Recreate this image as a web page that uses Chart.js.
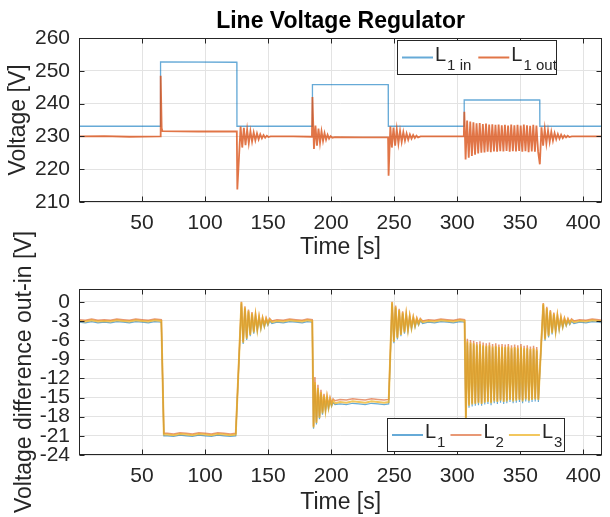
<!DOCTYPE html>
<html>
<head>
<meta charset="utf-8">
<title>Line Voltage Regulator</title>
<script src="https://cdn.jsdelivr.net/npm/chart.js@4.4.1/dist/chart.umd.min.js"></script>
<style>
  html, body { margin: 0; padding: 0; background: #fff; }
  #wrap { position: relative; width: 610px; height: 517px; overflow: hidden; }
  #wrap canvas { position: absolute; left: 0; }
  #voltChart { top: 0; }
  #diffChart { top: 220px; }
</style>
</head>
<body>
<div id="wrap">
  <canvas id="diffChart" width="610" height="297"></canvas>
  <canvas id="voltChart" width="610" height="260"></canvas>
</div>
<script>
// tick positions
const timeTicks = [50, 100, 150, 200, 250, 300, 350, 400];
const voltTicks = [210, 220, 230, 240, 250, 260];
const diffTicks = [-24, -21, -18, -15, -12, -9, -6, -3, 0];

// top panel: L1 input voltage (step changes)
const tIn = [0, 64.6, 64.7, 125.2, 125.3, 185.1, 185.2, 245.3, 245.4, 305.5, 305.6, 365.5, 365.6, 415];
const vIn = [233.1, 233.1, 252.7, 252.6, 233.1, 233.1, 245.8, 245.8, 233.1, 233.1, 241.1, 241.1, 233.1, 233.1];

// top panel: L1 output voltage
const tOut = [0, 20, 40, 64.5, 64.8, 65.6, 66.2, 95, 125.2, 125.6,
  128.2, 129.5, 130.8, 132.1, 133.4, 134.7, 136.0, 137.3, 138.6, 139.9, 141.2, 142.5, 143.8, 145.1, 146.4, 147.7, 149.0, 150.3, 152.0,
  170, 184.8, 185.2, 186.4, 187.6, 188.8, 190.0, 191.2, 192.4, 193.6, 194.8, 196.0, 197.2, 198.4, 199.6, 201.0, 203.0,
  225, 245.2, 245.6, 247.0, 248.2, 249.5, 250.8, 252.1, 253.4, 254.7, 256.0, 257.3, 258.6, 259.9, 261.2, 262.5, 263.8, 265.1, 266.4, 267.7, 269.0, 271.0,
  290, 305.3, 305.7, 306.7,
  307.9, 309.2, 310.4, 311.7, 312.9, 314.2, 315.4, 316.7, 317.9, 319.2, 320.4, 321.7, 322.9, 324.2, 325.4, 326.7, 327.9, 329.2, 330.4, 331.7,
  332.9, 334.2, 335.4, 336.7, 337.9, 339.2, 340.4, 341.7, 342.9, 344.2, 345.4, 346.7, 347.9, 349.2, 350.4, 351.7, 352.9, 354.2, 355.4, 356.7,
  357.9, 359.2, 360.4, 361.7, 362.9, 364.2,
  365.6, 366.9, 368.2, 369.5, 370.8, 372.1, 373.4, 374.7, 376.0, 377.3, 378.6, 379.9, 381.2, 382.5, 383.8, 385.1, 386.4, 387.7, 389.0, 391.0, 415];
const vOut = [230.0, 230.1, 229.9, 230.0, 248.5, 232.5, 231.6, 231.5, 231.5, 213.8,
  233.0, 226.6, 232.6, 227.3, 232.1, 227.9, 231.6, 228.4, 231.2, 228.8, 230.9, 229.1, 230.6, 229.4, 230.4, 229.6, 230.2, 229.8, 230.0,
  230.0, 229.9, 242.0, 226.2, 233.3, 227.2, 232.4, 228.0, 231.6, 228.6, 231.0, 229.0, 230.5, 229.3, 230.1, 229.6, 229.8,
  229.7, 229.7, 218.0, 233.0, 226.6, 232.7, 227.2, 232.2, 227.8, 231.7, 228.3, 231.3, 228.7, 230.9, 229.0, 230.6, 229.3, 230.4, 229.5, 230.2, 229.7, 230.0,
  230.0, 230.0, 237.5, 223.0,
  234.8, 223.5, 234.5, 224.0, 234.3, 224.4, 234.0, 224.8, 234.1, 225.0, 233.8, 225.1, 233.9, 225.3, 233.6, 225.2, 233.7, 225.4, 233.5, 225.3,
  233.6, 225.5, 233.4, 225.4, 233.5, 225.6, 233.3, 225.3, 233.6, 225.5, 233.4, 225.4, 233.5, 225.6, 233.3, 225.3, 233.6, 225.5, 233.4, 225.2,
  233.2, 225.4, 233.5, 225.3, 233.3, 225.5,
  221.5, 232.8, 227.2, 232.3, 227.8, 231.8, 228.3, 231.4, 228.7, 231.0, 229.1, 230.7, 229.3, 230.5, 229.5, 230.3, 229.7, 230.2, 229.8, 230.0, 230.0];

// bottom panel: out-in difference per phase
const tDiff = [0, 5, 10, 15, 20, 25, 30, 35, 40, 45, 50, 55, 60, 65.3,
  67.3, 70, 75, 80, 85, 90, 95, 100, 105, 110, 115, 120, 124.3,
  128.8, 130.2, 131.6, 133.0, 134.4, 135.8, 137.2, 138.6, 140.0, 141.4, 142.8, 144.2, 145.6, 147.0, 148.4, 149.8, 151.2, 153.0,
  157, 162, 167, 172, 177, 181, 185.0,
  186.0, 187.1, 188.3, 189.5, 190.7, 191.9, 193.1, 194.3, 195.5, 196.7, 197.9, 199.1, 200.3, 201.5, 203.0,
  207, 212, 217, 222, 227, 232, 237, 242, 245.6,
  248.3, 249.7, 251.1, 252.5, 253.9, 255.3, 256.7, 258.1, 259.5, 260.9, 262.3, 263.7, 265.1, 266.5, 267.9, 269.3, 270.7, 272.5,
  277, 282, 287, 292, 297, 302, 305.8,
  306.8,
  308.0, 309.3, 310.5, 311.8, 313.0, 314.3, 315.5, 316.8, 318.0, 319.3, 320.5, 321.8, 323.0, 324.3, 325.5, 326.8, 328.0, 329.3, 330.5, 331.8,
  333.0, 334.3, 335.5, 336.8, 338.0, 339.3, 340.5, 341.8, 343.0, 344.3, 345.5, 346.8, 348.0, 349.3, 350.5, 351.8, 353.0, 354.3, 355.5, 356.8,
  358.0, 359.3, 360.5, 361.8, 363.0, 364.3,
  368.2, 369.6, 371.0, 372.4, 373.8, 375.2, 376.6, 378.0, 379.4, 380.8, 382.2, 383.6, 385.0, 386.4, 387.8, 389.2, 390.6, 392.5,
  397, 402, 407, 412, 415];
const dL1 = [-3.2, -3.3, -3.1, -3.3, -3.2, -3.3, -3.1, -3.2, -3.3, -3.1, -3.2, -3.3, -3.1, -3.2,
  -21.0, -21.0, -21.1, -20.9, -21.0, -21.1, -20.9, -21.0, -21.1, -20.9, -21.0, -21.1, -21.0,
  -0.3, -6.6, -1.1, -6.0, -1.6, -5.4, -2.0, -5.0, -2.3, -4.6, -2.6, -4.3, -2.8, -4.0, -2.9, -3.7, -3.0, -3.4,
  -3.2, -3.3, -3.1, -3.2, -3.3, -3.1, -3.2,
  -19.9, -13.0, -19.2, -13.8, -18.4, -14.5, -17.7, -15.0, -17.2, -15.3, -16.8, -15.6, -16.4, -15.8, -16.1,
  -16.0, -16.1, -15.9, -16.0, -16.1, -15.9, -16.0, -16.1, -16.0,
  -0.3, -6.5, -1.0, -5.9, -1.5, -5.4, -1.9, -5.0, -2.2, -4.6, -2.5, -4.3, -2.7, -4.0, -2.9, -3.7, -3.0, -3.4,
  -3.2, -3.3, -3.1, -3.2, -3.3, -3.1, -3.2,
  -18.5,
  -6.4, -16.6, -6.6, -16.4, -6.7, -16.3, -6.9, -16.2, -6.8, -16.3, -7.0, -16.1, -7.1, -16.0, -7.0, -16.2, -7.2, -15.9, -7.1, -16.0,
  -7.3, -15.8, -7.2, -16.0, -7.3, -15.9, -7.2, -15.7, -7.4, -15.9, -7.3, -15.8, -7.4, -15.7, -7.2, -15.9, -7.5, -15.6, -7.4, -15.8,
  -7.6, -15.7, -7.5, -15.6, -7.7, -15.7,
  -0.5, -6.1, -1.2, -5.6, -1.7, -5.1, -2.1, -4.8, -2.4, -4.4, -2.7, -4.1, -2.9, -3.8, -3.0, -3.6, -3.1, -3.4,
  -3.2, -3.3, -3.1, -3.2, -3.3];
const dL2 = [-2.8, -2.9, -2.7, -2.9, -2.8, -2.9, -2.7, -2.8, -2.9, -2.7, -2.8, -2.9, -2.7, -2.8,
  -20.6, -20.6, -20.7, -20.5, -20.6, -20.7, -20.5, -20.6, -20.7, -20.5, -20.6, -20.7, -20.6,
  0.0, -6.2, -0.7, -5.6, -1.2, -5.0, -1.6, -4.6, -1.9, -4.2, -2.2, -3.9, -2.4, -3.6, -2.5, -3.3, -2.6, -3.0,
  -2.8, -2.9, -2.7, -2.8, -2.9, -2.7, -2.8,
  -19.5, -11.8, -18.8, -13.0, -17.9, -13.8, -17.2, -14.4, -16.7, -14.7, -16.3, -15.0, -15.9, -15.2, -15.5,
  -15.3, -15.4, -15.2, -15.3, -15.4, -15.2, -15.3, -15.4, -15.3,
  0.0, -6.1, -0.6, -5.5, -1.1, -5.0, -1.5, -4.6, -1.8, -4.2, -2.1, -3.9, -2.3, -3.6, -2.5, -3.3, -2.6, -3.0,
  -2.8, -2.9, -2.7, -2.8, -2.9, -2.7, -2.8,
  -18.1,
  -5.8, -16.1, -6.0, -15.9, -6.1, -15.8, -6.3, -15.7, -6.2, -15.8, -6.4, -15.6, -6.5, -15.5, -6.4, -15.7, -6.6, -15.4, -6.5, -15.5,
  -6.7, -15.3, -6.6, -15.5, -6.7, -15.4, -6.6, -15.2, -6.8, -15.4, -6.7, -15.3, -6.8, -15.2, -6.6, -15.4, -6.9, -15.1, -6.8, -15.3,
  -7.0, -15.2, -6.9, -15.1, -7.1, -15.2,
  -0.2, -5.7, -0.8, -5.2, -1.3, -4.7, -1.7, -4.4, -2.0, -4.0, -2.3, -3.7, -2.5, -3.4, -2.6, -3.2, -2.7, -3.0,
  -2.8, -2.9, -2.7, -2.8, -2.9];
const dL3 = [-3.0, -3.1, -2.9, -3.1, -3.0, -3.1, -2.9, -3.0, -3.1, -2.9, -3.0, -3.1, -2.9, -3.0,
  -20.8, -20.8, -20.9, -20.7, -20.8, -20.9, -20.7, -20.8, -20.9, -20.7, -20.8, -20.9, -20.8,
  -0.1, -6.4, -0.9, -5.8, -1.4, -5.2, -1.8, -4.8, -2.1, -4.4, -2.4, -4.1, -2.6, -3.8, -2.7, -3.5, -2.8, -3.2,
  -3.0, -3.1, -2.9, -3.0, -3.1, -2.9, -3.0,
  -19.7, -12.6, -19.0, -13.5, -18.2, -14.2, -17.5, -14.7, -17.0, -15.0, -16.6, -15.3, -16.2, -15.5, -15.9,
  -15.7, -15.8, -15.6, -15.7, -15.8, -15.6, -15.7, -15.8, -15.7,
  -0.1, -6.3, -0.8, -5.7, -1.3, -5.2, -1.7, -4.8, -2.0, -4.4, -2.3, -4.1, -2.5, -3.8, -2.7, -3.5, -2.8, -3.2,
  -3.0, -3.1, -2.9, -3.0, -3.1, -2.9, -3.0,
  -18.3,
  -6.2, -16.3, -6.4, -16.1, -6.5, -16.0, -6.7, -15.9, -6.6, -16.0, -6.8, -15.8, -6.9, -15.7, -6.8, -15.9, -7.0, -15.6, -6.9, -15.7,
  -7.1, -15.5, -7.0, -15.7, -7.1, -15.6, -7.0, -15.4, -7.2, -15.6, -7.1, -15.5, -7.2, -15.4, -7.0, -15.6, -7.3, -15.3, -7.2, -15.5,
  -7.4, -15.4, -7.3, -15.3, -7.5, -15.4,
  -0.3, -5.9, -1.0, -5.4, -1.5, -4.9, -1.9, -4.6, -2.2, -4.2, -2.5, -3.9, -2.7, -3.6, -2.8, -3.4, -2.9, -3.2,
  -3.0, -3.1, -2.9, -3.0, -3.1];

const FONT = "'Liberation Sans', Arial, Helvetica, sans-serif";
const INK = '#262626';
const BLUE = 'rgba(0,114,189,0.6)';
const ORANGE = 'rgba(217,83,25,0.8)';
const ORANGE_LIGHT = 'rgba(217,83,25,0.6)';
const YELLOW = 'rgba(237,177,32,0.72)';

function pts(xs, ys) {
    return xs.map((x, i) => ({ x: x, y: ys[i] }));
}

// axes box with inward tick marks, like the original figure
const boxFrame = {
    id: 'boxFrame',
    afterDatasetsDraw(chart) {
        const { ctx, chartArea: a, scales } = chart;
        const l = Math.round(a.left) + 0.5, r = Math.round(a.right) - 0.5;
        const t = Math.round(a.top) + 0.5, b = Math.round(a.bottom) - 0.5;
        ctx.save();
        ctx.strokeStyle = INK;
        ctx.lineWidth = 1;
        ctx.strokeRect(l, t, r - l, b - t);
        ctx.beginPath();
        scales.x.ticks.forEach(tk => {
            const px = Math.round(scales.x.getPixelForValue(tk.value)) + 0.5;
            ctx.moveTo(px, b); ctx.lineTo(px, b - 5);
            ctx.moveTo(px, t); ctx.lineTo(px, t + 5);
        });
        scales.y.ticks.forEach(tk => {
            const py = Math.round(scales.y.getPixelForValue(tk.value)) + 0.5;
            ctx.moveTo(l, py); ctx.lineTo(l + 5, py);
            ctx.moveTo(r, py); ctx.lineTo(r - 5, py);
        });
        ctx.stroke();
        ctx.restore();
    }
};

// legend with subscripts (L_1 in ...)
const subLegend = {
    id: 'subLegend',
    afterDraw(chart, args, opts) {
        const { ctx } = chart;
        const bx = opts.box;
        ctx.save();
        ctx.fillStyle = '#fff';
        ctx.fillRect(bx.left, bx.top, bx.width, bx.height);
        ctx.strokeStyle = INK;
        ctx.lineWidth = 1;
        ctx.strokeRect(bx.left + 0.5, bx.top + 0.5, bx.width, bx.height);
        const midY = bx.top + bx.height / 2 + 0.5;
        let x = bx.left + 5;
        chart.data.datasets.forEach(ds => {
            ctx.strokeStyle = ds.borderColor;
            ctx.lineWidth = 2;
            ctx.beginPath();
            ctx.moveTo(x, midY);
            ctx.lineTo(x + 31, midY);
            ctx.stroke();
            x += 33;
            ctx.fillStyle = INK;
            ctx.textBaseline = 'alphabetic';
            ctx.font = '20px ' + FONT;
            ctx.fillText(ds.legendMain, x, midY + 3);
            x += ctx.measureText(ds.legendMain).width + 1;
            ctx.font = '15px ' + FONT;
            ctx.fillText(ds.legendSub, x, midY + 12);
            x += ctx.measureText(ds.legendSub).width + bx.gap;
        });
        ctx.restore();
    }
};

function axisOptions(yMin, yMax, yTickList, yTitle, yTitlePad, xTitlePad) {
    return {
        x: {
            type: 'linear',
            min: 0,
            max: 415,
            afterBuildTicks: s => { s.ticks = timeTicks.map(v => ({ value: v })); },
            grid: { color: '#e3e3e3', drawTicks: false },
            border: { display: false },
            ticks: { color: INK, font: { family: FONT, size: 21 }, padding: 9, maxRotation: 0, autoSkip: false },
            title: { display: true, text: 'Time [s]', color: INK, font: { family: FONT, size: 23, lineHeight: 1 },
                     padding: { top: 0, bottom: xTitlePad } }
        },
        y: {
            min: yMin,
            max: yMax,
            afterBuildTicks: s => { s.ticks = yTickList.map(v => ({ value: v })); },
            afterFit: s => { s.width = 79; },
            grid: { color: '#e3e3e3', drawTicks: false },
            border: { display: false },
            ticks: { color: INK, font: { family: FONT, size: 21 }, padding: 9, autoSkip: false },
            title: { display: true, text: yTitle, color: INK, font: { family: FONT, size: 23, lineHeight: 1 },
                     padding: { top: yTitlePad, bottom: 0 } }
        }
    };
}

const voltAxes = axisOptions(210, 260, voltTicks, 'Voltage [V]', 7, 1);
voltAxes.x.afterFit = s => { s.height = 58; };

new Chart(document.getElementById('voltChart'), {
    type: 'line',
    data: {
        datasets: [
            { label: 'L1 in', legendMain: 'L', legendSub: '1 in', data: pts(tIn, vIn),
              borderColor: BLUE, borderWidth: 1.3, pointRadius: 0, tension: 0, order: 1 },
            { label: 'L1 out', legendMain: 'L', legendSub: '1 out', data: pts(tOut, vOut),
              borderColor: ORANGE, borderWidth: 1.8, pointRadius: 0, tension: 0, order: 0 }
        ]
    },
    options: {
        responsive: false,
        animation: false,
        devicePixelRatio: 1,
        layout: { padding: { top: 0, left: 0, right: 3, bottom: 0 } },
        scales: voltAxes,
        plugins: {
            legend: { display: false },
            tooltip: { enabled: false },
            title: {
                display: true,
                text: 'Line Voltage Regulator',
                color: '#000',
                fullSize: false,
                font: { family: FONT, size: 23, weight: 'bold', lineHeight: 1.2 },
                padding: { top: 8, bottom: 2.4 }
            },
            subLegend: { box: { left: 397, top: 40, width: 159, height: 34, gap: 7 } }
        }
    },
    plugins: [boxFrame, subLegend]
});

const diffAxes = axisOptions(-24, 2, diffTicks, 'Voltage difference out-in [V]', 13, 2.5);
diffAxes.x.afterFit = s => { s.height = 62; };

new Chart(document.getElementById('diffChart'), {
    type: 'line',
    data: {
        datasets: [
            { label: 'L1', legendMain: 'L', legendSub: '1', data: pts(tDiff, dL1),
              borderColor: BLUE, borderWidth: 1.2, pointRadius: 0, tension: 0, order: 2 },
            { label: 'L2', legendMain: 'L', legendSub: '2', data: pts(tDiff, dL2),
              borderColor: ORANGE_LIGHT, borderWidth: 1.5, pointRadius: 0, tension: 0, order: 1 },
            { label: 'L3', legendMain: 'L', legendSub: '3', data: pts(tDiff, dL3),
              borderColor: YELLOW, borderWidth: 2, pointRadius: 0, tension: 0, order: 0 }
        ]
    },
    options: {
        responsive: false,
        animation: false,
        devicePixelRatio: 1,
        layout: { padding: { top: 69, left: 0, right: 3, bottom: 0 } },
        scales: diffAxes,
        plugins: {
            legend: { display: false },
            tooltip: { enabled: false },
            subLegend: { box: { left: 387, top: 198, width: 177, height: 33, gap: 5 } }
        }
    },
    plugins: [boxFrame, subLegend]
});
</script>
</body>
</html>
